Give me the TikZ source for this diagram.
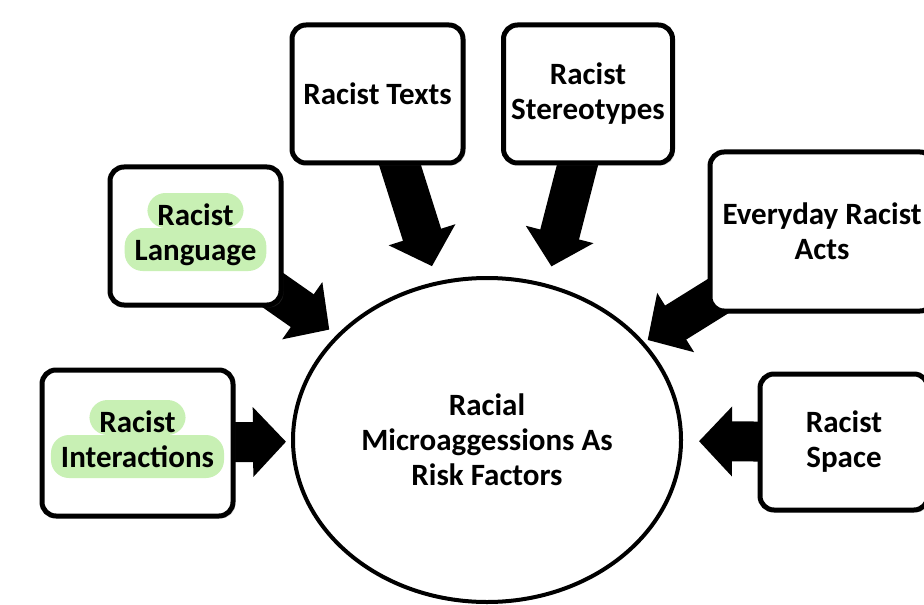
\documentclass[tikz,border=0pt]{standalone}
\usepackage{fontspec}
\setmainfont{Carlito}
\usetikzlibrary{positioning}
\usetikzlibrary{shapes.geometric}
\usetikzlibrary{arrows.meta}
\usetikzlibrary{shadows}
\pgfdeclarelayer{background}
\pgfsetlayers{background,main}
\definecolor{hlgreen}{RGB}{200,240,180}

\tikzset{
	factor/.style={draw, line width=2.5pt, rounded corners=7pt, fill=white, align=center,
		inner sep=0pt, outer sep=0pt,
		drop shadow={shadow xshift=1.2pt, shadow yshift=-1.2pt, opacity=.25}},
	core/.style={ellipse, draw, line width=2pt, fill=white, align=center, inner sep=0pt,
		minimum width=194pt, minimum height=162pt},
	bigarrow/.style={line width=20pt, shorten <=-6pt, -{Triangle[length=16.5pt,width=34pt]}},
	hlbox/.style={fill=hlgreen, rounded corners=9pt, inner xsep=5pt, inner ysep=0pt,
		outer sep=0pt, text height=16pt}
}

\begin{document}
\begin{tikzpicture}[x=0.5pt, y=-0.5pt, font=\bfseries\fontsize{15.5}{17.5}\selectfont]
				\useasboundingbox (0,0) rectangle (924,604);
				\clip (0,0) rectangle (924,604);

				\node [core] (micro) at (487,440) {Racial\\Microaggessions As\\Risk Factors};

				\node [factor, minimum width=85.5pt, minimum height=69pt] (texts)    at (377.5,94)  {Racist Texts};
				\node [factor, minimum width=84.5pt, minimum height=69pt] (stereo)   at (588,94)    {Racist\\Stereotypes};
				\node [factor, minimum width=85.5pt, minimum height=69pt] (language) at (195.5,236) {};
				\node [factor, minimum width=112pt,  minimum height=79.5pt] (everyday) at (822,231.5) {Everyday Racist\\Acts};
				\node [factor, minimum width=95.5pt, minimum height=73pt] (interactions) at (137.5,443) {};
				\node [factor, minimum width=84pt,   minimum height=68pt] (space)    at (844,442)   {Racist\\Space};

				\node [hlbox, text depth=1.5pt, anchor=south] (language-1) at ([yshift=4pt]language.center) {Racist};
				\node [hlbox, text depth=5.5pt, below=0pt of language-1] (language-2) {Language};
				\node [hlbox, text depth=1.5pt, anchor=south] (interactions-1) at ([yshift=4pt]interactions.center) {Racist};
				\node [hlbox, text depth=5.5pt, below=0pt of interactions-1] (interactions-2) {Interactions};

				\begin{pgfonlayer}{background}
					\foreach \src/\gap in {texts/8pt, language/4.5pt, everyday/2pt, interactions/2.5pt, space/8pt} {
						\draw [bigarrow, shorten >=\gap] (\src) -- (micro);
					}
					\draw [bigarrow, shorten >=9pt] ([xshift=-5pt]stereo.south) -- (micro.69);
				\end{pgfonlayer}
			\end{tikzpicture}
\end{document}
